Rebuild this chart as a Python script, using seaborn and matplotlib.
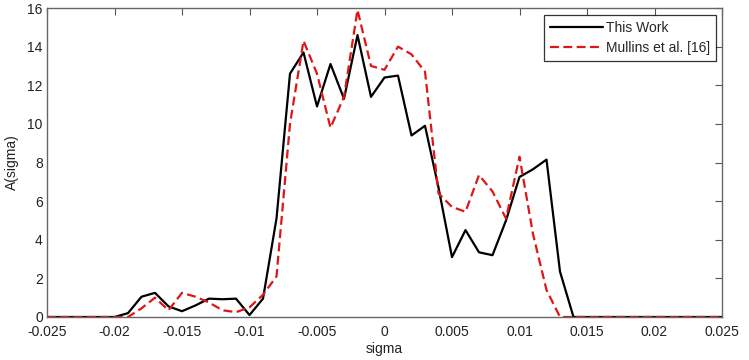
import numpy as np
import pandas as pd
import matplotlib
matplotlib.use("Agg")
import matplotlib.pyplot as plt
import seaborn as sns

######################################################### DATA #################################################################
sigma = [-0.025, -0.024, -0.023, -0.022, -0.021, -0.020, -0.019, -0.018, -0.017, -0.016,
         -0.015, -0.014, -0.013, -0.012, -0.011, -0.010, -0.009, -0.008, -0.007, -0.006,
         -0.005, -0.004, -0.003, -0.002, -0.001, 0.000, 0.001, 0.002, 0.003, 0.004,
         0.005, 0.006, 0.007, 0.008, 0.009, 0.010, 0.011, 0.012, 0.013, 0.014,
         0.015, 0.016, 0.017, 0.018, 0.019, 0.020, 0.021, 0.022, 0.023, 0.024, 0.025]

this_work = [0, 0, 0, 0, 0, 0, 0.2, 1.05, 1.25, 0.55,
             0.3, 0.6, 0.95, 0.92, 0.95, 0.1, 0.95, 5.1, 12.6, 13.7,
             10.9, 13.1, 11.3, 14.6, 11.4, 12.4, 12.5, 9.4, 9.9, 6.7,
             3.1, 4.5, 3.35, 3.2, 5.0, 7.25, 7.65, 8.15, 2.35, 0,
             0, 0, 0, 0, 0, 0, 0, 0, 0, 0, 0]

mullins = [0, 0, 0, 0, 0, 0, 0, 0.45, 1.0, 0.35,
           1.25, 1.05, 0.75, 0.35, 0.25, 0.5, 1.15, 2.1, 10.0, 14.3,
           12.6, 9.8, 11.4, 15.9, 13.0, 12.8, 14.0, 13.6, 12.7, 6.4,
           5.7, 5.45, 7.35, 6.5, 5.1, 8.3, 4.3, 1.4, 0, 0,
           0, 0, 0, 0, 0, 0, 0, 0, 0, 0, 0]

labels = ["This Work", "Mullins et al. [16]"]
x_ticks = [-0.025, -0.02, -0.015, -0.01, -0.005, 0, 0.005, 0.01, 0.015, 0.02, 0.025]
x_tick_labels = ["-0.025", "-0.02", "-0.015", "-0.01", "-0.005", "0", "0.005", "0.01", "0.015", "0.02", "0.025"]
y_ticks = [0, 2, 4, 6, 8, 10, 12, 14, 16]

######################################################### PLOT #################################################################
sns.set_style("white")
plt.rcParams['font.family'] = ['Liberation Sans Narrow', 'Liberation Sans', 'DejaVu Sans']

df = pd.DataFrame({
    'sigma': sigma * 2,
    'A': this_work + mullins,
    'source': [labels[0]] * len(sigma) + [labels[1]] * len(sigma),
})

fig = plt.figure(figsize=(7.49, 3.6), dpi=100)
ax = fig.add_axes([47 / 749, 1 - 317 / 360, 675 / 749, 309 / 360])

sns.lineplot(data=df, x='sigma', y='A', hue='source', style='source',
             palette={labels[0]: 'black', labels[1]: '#e01515'},
             dashes={labels[0]: '', labels[1]: (4, 2)},
             linewidth=1.6, ax=ax)

ax.set_xlim(-0.025, 0.025)
ax.set_ylim(0, 16)
ax.set_xticks(x_ticks)
ax.set_xticklabels(x_tick_labels)
ax.set_yticks(y_ticks)
ax.tick_params(direction='in', length=5, width=0.8, color='#555555',
               top=True, right=True, labelsize=10, labelcolor='#222222', pad=3)
ax.tick_params(axis='x', pad=6)
for s in ax.spines.values():
    s.set_color('#666666')
    s.set_linewidth(1.0)

ax.set_xlabel('sigma', fontsize=10, color='#222222', labelpad=2)
ax.set_ylabel('A(sigma)', fontsize=10, color='#222222', labelpad=6)

leg = ax.legend(loc='upper right', bbox_to_anchor=(0.991, 0.978), fontsize=10,
                frameon=True, fancybox=False, handlelength=3.8, handletextpad=0.2,
                borderpad=0.45, labelspacing=0.4, borderaxespad=0)
leg.get_frame().set_edgecolor('black')
leg.get_frame().set_linewidth(0.9)

plt.savefig('out.png', dpi=100)
